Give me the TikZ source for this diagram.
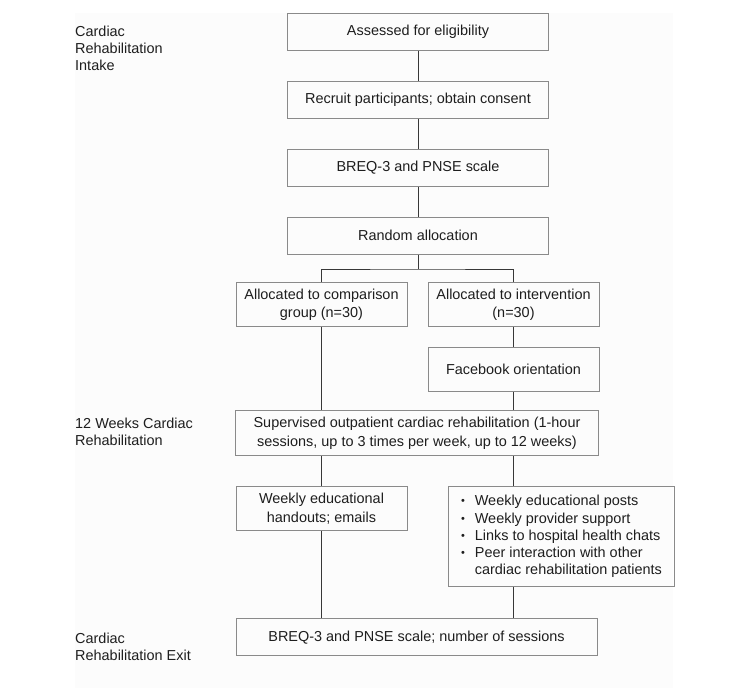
\documentclass[tikz,border=0pt]{standalone}
\usepackage{fontspec}
\setmainfont{Liberation Sans}
\usetikzlibrary{positioning}
\definecolor{boxgray}{HTML}{8A8A8A}
\definecolor{linegray}{HTML}{383838}
\definecolor{bggray}{HTML}{FCFCFC}
\definecolor{inkgray}{HTML}{1E1E1E}
\newcommand{\dotmark}{\raisebox{1bp}{\fontsize{11}{11}\selectfont\textbullet}}
\tikzset{
x=1bp, y=-1bp, % pixel-like coordinates, y going down
node distance=30bp, % gap between the stacked boxes. Change if necessary.
every node/.style={text=inkgray, font=\fontsize{14.5}{18.5}\selectfont}, % sans text everywhere
stagebox/.style={draw=boxgray, line width=1bp, rectangle, align=center, inner sep=2bp}, % the framed steps
mainbox/.style={stagebox, minimum width=261bp, minimum height=37bp}, % the upper column
armbox/.style={stagebox, minimum width=171bp, minimum height=44bp}, % one per study arm
phase/.style={anchor=north west, align=left, inner sep=0pt, font=\fontsize{14.5}{17}\selectfont}, % labels on the left
link/.style={draw=linegray, line width=1bp}, % connectors
}

\begin{document}
\begin{tikzpicture}
            \useasboundingbox (0,0) rectangle (750,700);
            \fill[bggray] (75,13) rectangle (673,688);
            % phases
            \node[phase] (intake) at (75,25.5) {Cardiac\\Rehabilitation\\Intake};
            \node[phase] (weeks) at (75,417.5) {12 Weeks Cardiac\\Rehabilitation};
            \node[phase] (exit) at (75,632.5) {Cardiac\\Rehabilitation Exit};
            % intake column
            \node[mainbox] (assess) at (418,31.7) {Assessed for eligibility};
            \node[mainbox, below=of assess] (recruit) {Recruit participants; obtain consent};
            \node[mainbox, below=of recruit] (breq) {BREQ-3 and PNSE scale};
            \node[mainbox, below=of breq] (random) {Random allocation};
            % the two arms
            \node[armbox] (comp) at (321.5,304.5) {Allocated to comparison\\group (n=30)};
            \node[armbox] (interv) at (513.5,304.5) {Allocated to intervention\\(n=30)};
            \node[armbox, below=20bp of interv] (fb) {Facebook orientation};
            \node[stagebox, minimum width=363bp, minimum height=45bp] (sup) at (417,433.2)
                {Supervised outpatient cardiac rehabilitation (1-hour\\sessions, up to 3 times per week, up to 12 weeks)};
            \node[armbox] (handouts) at (321.5,508.5) {Weekly educational\\handouts; emails};
            \node[stagebox, minimum width=226bp, minimum height=100bp] (posts) at (561,536.8) {%
                \fontsize{14.5}{17.3}\selectfont
                \begin{tabular}{@{\hspace{1bp}}l@{\hspace{10bp}}l@{}}
                \dotmark & Weekly educational posts\\
                \dotmark & Weekly provider support\\
                \dotmark & Links to hospital health chats\\
                \dotmark & Peer interaction with other\\
                 & cardiac rehabilitation patients
                \end{tabular}};
            \node[stagebox, minimum width=361bp, minimum height=37bp] (final) at (416.5,637.2)
                {BREQ-3 and PNSE scale; number of sessions};
            % connectors
            \coordinate (split) at (418,269);
            \draw[link]
                (assess) -- (recruit)
                (recruit) -- (breq)
                (breq) -- (random)
                (random) -- (split)
                (comp.north) |- (split) -| (interv.north)
                (comp.south) -- (comp.south |- sup.north)
                (interv) -- (fb)
                (fb.south) -- (fb.south |- sup.north)
                (handouts.north |- sup.south) -- (handouts.north)
                (fb.south |- sup.south) -- (fb.south |- posts.north)
                (handouts.south) -- (handouts.south |- final.north)
                (fb.south |- posts.south) -- (fb.south |- final.north)
                ;
\end{tikzpicture}
\end{document}
